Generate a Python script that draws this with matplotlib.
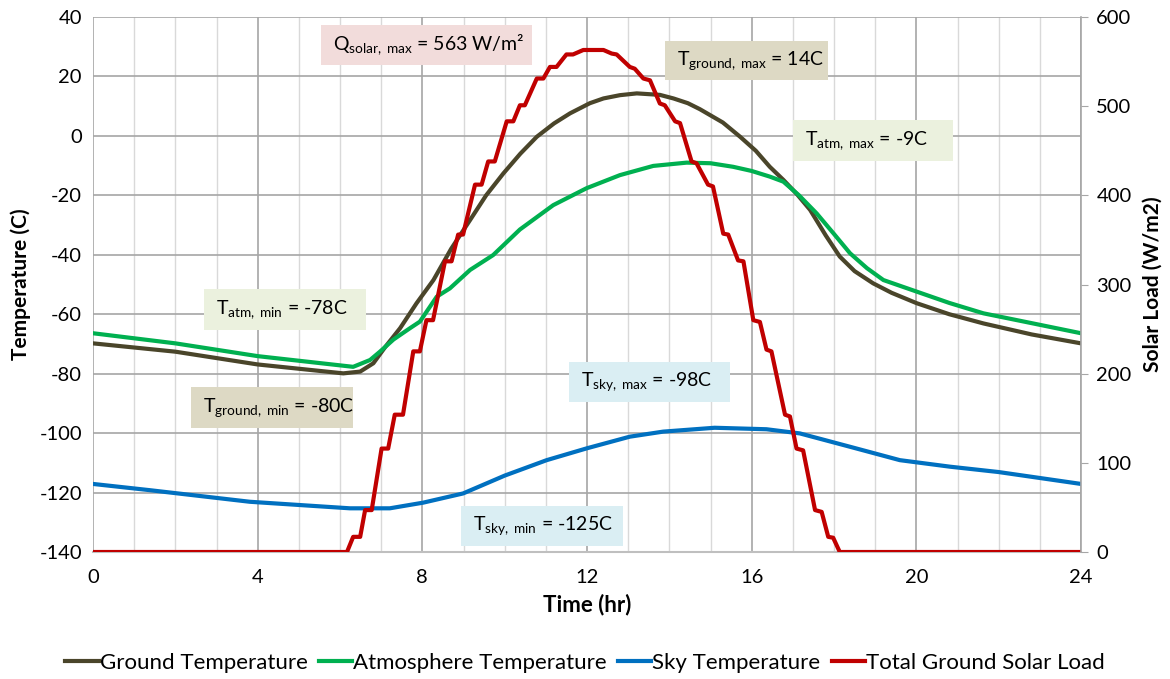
import numpy as np
import matplotlib.pyplot as plt
from matplotlib.patches import Rectangle
from matplotlib.ticker import MultipleLocator

plt.rcParams['font.family'] = ['Lato', 'DejaVu Sans']
plt.rcParams['mathtext.fontset'] = 'custom'
plt.rcParams['mathtext.rm'] = 'Lato'
plt.rcParams['mathtext.it'] = 'Lato:italic'
plt.rcParams['mathtext.bf'] = 'Lato:bold'
plt.rcParams['axes.unicode_minus'] = False

# ground temperature (C) vs time (hr)
ground_t = [0, 2, 4, 6.08, 6.49, 6.81, 7.10, 7.46, 7.86, 8.27, 8.70, 9.16, 9.55, 9.97,
            10.38, 10.78, 11.20, 11.59, 12.07, 12.40, 12.80, 13.21, 13.77, 14.10, 14.45,
            14.74, 15.30, 15.72, 16.10, 16.44, 16.77, 17.10, 17.42, 17.80, 18.14, 18.50,
            18.95, 19.40, 20.01, 20.80, 21.63, 22.80, 24]
ground_T = [-69.8, -72.6, -76.9, -79.9, -79.3, -76.5, -71.0, -64.7, -56.3, -48.5, -38.0,
            -28.3, -20.0, -12.6, -6.0, -0.3, 4.2, 7.6, 11.0, 12.6, 13.7, 14.3, 13.8,
            12.6, 11.0, 9.0, 4.5, -0.3, -5.0, -10.4, -14.8, -19.6, -24.9, -33.5, -40.6,
            -45.5, -49.6, -52.8, -56.3, -60.0, -63.1, -66.8, -69.8]

# atmosphere temperature (C)
atm_t = [0, 2, 4, 6.32, 6.73, 6.97, 7.30, 7.70, 7.94, 8.35, 8.67, 9.16, 9.72, 10.37,
         11.18, 11.99, 12.80, 13.61, 14.42, 15.00, 15.55, 16.00, 16.44, 16.77, 17.15,
         17.58, 18.00, 18.39, 18.80, 19.20, 20.01, 20.80, 21.63, 22.80, 24]
atm_T = [-66.4, -69.8, -74.1, -77.7, -75.4, -72.6, -68.5, -64.7, -62.5, -54.1, -51.3,
         -45.1, -40.1, -31.5, -23.3, -17.6, -13.2, -10.1, -9.0, -9.2, -10.4, -11.8,
         -13.7, -15.4, -20.0, -26.1, -33.0, -39.5, -44.5, -48.5, -52.4, -56.2, -59.7,
         -63.0, -66.4]

# sky temperature (C)
sky_t = [0, 1.38, 3.81, 6.24, 7.21, 8.02, 8.99, 10.0, 11.02, 12.0, 13.04, 13.85,
         15.10, 16.36, 17.17, 18.39, 19.60, 20.82, 22, 24]
sky_T = [-117.1, -119.2, -123.1, -125.3, -125.3, -123.4, -120.3, -114.3, -109.1,
         -105.1, -101.2, -99.5, -98.2, -98.7, -100.1, -104.6, -109.1, -111.3,
         -113.1, -117.1]

# total ground solar load (W/m2)
solar_t = [0, 6.17, 6.32, 6.49, 6.61, 6.77, 7.01, 7.17, 7.33, 7.53, 7.78, 7.94, 8.10,
           8.26, 8.55, 8.71, 8.87, 8.99, 9.28, 9.44, 9.60, 9.76, 10.05, 10.21, 10.37,
           10.49, 10.78, 10.94, 11.10, 11.26, 11.50, 11.66, 11.91, 12.40, 12.60, 12.72,
           13.04, 13.16, 13.37, 13.53, 13.77, 13.89, 14.14, 14.26, 14.54, 14.66, 14.94,
           15.06, 15.31, 15.43, 15.67, 15.80, 16.04, 16.20, 16.36, 16.48, 16.81, 16.93,
           17.09, 17.25, 17.54, 17.70, 17.86, 17.98, 18.14, 24]
solar_Q = [0, 0, 17, 17, 47, 47, 116, 116, 154, 154, 225, 225, 260, 260, 326, 326, 356,
           356, 412, 412, 438, 438, 483, 483, 501, 501, 531, 531, 544, 544, 558, 558,
           563, 563, 559, 558, 544, 542, 531, 529, 503, 501, 483, 481, 438, 436, 412,
           410, 357, 356, 327, 326, 260, 258, 227, 225, 154, 152, 116, 114, 47, 45, 17,
           16, 0, 0]

series = [
    ('Ground Temperature', ground_t, ground_T, '#4A452A'),
    ('Atmosphere Temperature', atm_t, atm_T, '#00B050'),
    ('Sky Temperature', sky_t, sky_T, '#0070C0'),
]

# annotation boxes: (x0, x1, y0, y1) in hours / deg C, text, fill
notes = [
    (5.54, 10.66, 23.8, 37.3, r'Q$_{\mathrm{solar,\ max}}$ = 563 W/m²', '#F2DCDB'),
    (13.89, 17.85, 18.8, 31.9, r'T$_{\mathrm{ground,\ max}}$ = 14C', '#DDD9C4'),
    (17.0, 20.89, -8.5, 5.3, r'T$_{\mathrm{atm,\ max}}$ = -9C', '#EBF1DE'),
    (2.70, 6.63, -65.3, -51.5, r'T$_{\mathrm{atm,\ min}}$ = -78C', '#EBF1DE'),
    (2.38, 6.32, -98.3, -84.5, r'T$_{\mathrm{ground,\ min}}$ = -80C', '#DDD9C4'),
    (11.56, 15.47, -89.5, -76.1, r'T$_{\mathrm{sky,\ max}}$ = -98C', '#DAEEF3'),
    (8.94, 12.87, -138.0, -124.5, r'T$_{\mathrm{sky,\ min}}$ = -125C', '#DAEEF3'),
]

fig = plt.figure(figsize=(11.7, 6.79), dpi=100)
ax = fig.add_axes([93 / 1170, 1 - 552 / 679, (1081 - 93) / 1170, 535 / 679])
ax2 = ax.twinx()

handles = []
for name, t, T, c in series:
    h, = ax.plot(t, T, color=c, lw=3, label=name, solid_joinstyle='round')
    handles.append(h)
h, = ax2.plot(solar_t, solar_Q, color='#C00000', lw=3, label='Total Ground Solar Load',
              solid_joinstyle='round')
handles.append(h)

ax.set_xlim(0, 24)
ax.set_ylim(-140, 40)
ax2.set_ylim(0, 600)
ax.xaxis.set_major_locator(MultipleLocator(4))
ax.xaxis.set_minor_locator(MultipleLocator(1))
ax.yaxis.set_major_locator(MultipleLocator(20))
ax2.yaxis.set_major_locator(MultipleLocator(100))

ax.grid(which='minor', axis='x', color='#D9D9D9', lw=1)
ax.grid(which='major', axis='both', color='#A6A6A6', lw=1.2)
ax.set_axisbelow(True)

for a in (ax, ax2):
    for s in ('top', 'left'):
        a.spines[s].set_visible(False)
ax.spines['right'].set_visible(False)
ax2.spines['bottom'].set_visible(False)
ax.spines['bottom'].set_color('#BFBFBF')
ax.spines['bottom'].set_linewidth(1.5)
ax2.spines['right'].set_color('#A6A6A6')
ax2.spines['right'].set_linewidth(1.2)

ax.tick_params(axis='y', which='both', length=0, labelsize=14.5, pad=8)
ax.tick_params(axis='x', which='both', length=0, labelsize=14.5, pad=12)
ax2.tick_params(axis='y', length=5, color='#A6A6A6', labelsize=14.5, pad=6)

ax.set_xlabel('Time (hr)', fontsize=16, fontweight='bold', labelpad=6)
ax.set_ylabel('Temperature (C)', fontsize=15, fontweight='bold', labelpad=6)
ax2.set_ylabel('Solar Load (W/m2)', fontsize=15, fontweight='bold', labelpad=8)

for x0, x1, y0, y1, txt, fc in notes:
    ax2.add_patch(Rectangle((x0, y0), x1 - x0, y1 - y0, transform=ax.transData,
                            facecolor=fc, edgecolor='none', zorder=5))
    ax2.text(x0 + 0.3, (y0 + y1) / 2, txt, transform=ax.transData, fontsize=14,
             ha='left', va='center', zorder=6)

fig.legend(handles=handles, loc='center', bbox_to_anchor=(0.5, 1 - 663 / 679), ncol=4,
           frameon=False, fontsize=16, handlelength=1.5, handletextpad=0.05,
           columnspacing=0.5)

fig.savefig('out.png', dpi=100)
